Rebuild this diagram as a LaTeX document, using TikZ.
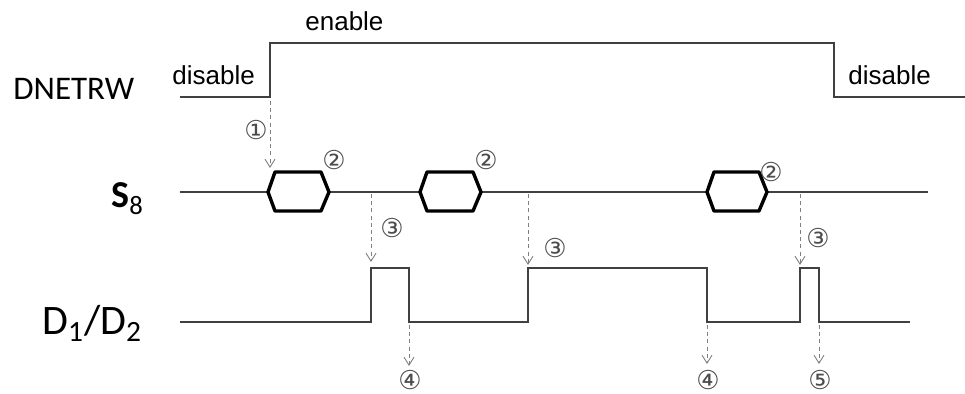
\documentclass[tikz,border=0pt]{standalone}
\usepackage{fontspec}
\setmainfont{Liberation Sans}
\newfontfamily\calfont{Carlito}
\newfontfamily\symfont{DejaVu Sans}
\usetikzlibrary{arrows.meta}

\begin{document}
\begin{tikzpicture}[x=0.5pt, y=-0.5pt,
  wave/.style={line width=0.8pt, draw=black!75},
  hexa/.style={line width=1.7pt, line join=round},
  cue/.style={draw=gray, line width=0.45pt, dash pattern=on 2pt off 1.6pt,
              -{Straight Barb[length=4pt, width=5pt]}},
  num/.style={font=\symfont\fontsize{13}{13}\selectfont, text=black!70, inner sep=0pt},
  sig/.style={anchor=base west, inner sep=0pt},
  lvl/.style={font=\fontsize{13}{13}\selectfont, anchor=base west, inner sep=0pt},
]
  \useasboundingbox (0,0) rectangle (965,394);

  % signal names
  \node[sig, font=\calfont\fontsize{16.5}{16.5}\selectfont] (dnet) at (13,100) {DNETRW};
  \node[sig, font=\calfont\fontsize{19}{19}\selectfont] (s8) at (111,208) {\textbf{S}\textsubscript{8}};
  \node[sig, font=\calfont\fontsize{21}{21}\selectfont] (d12) at (42,335) {D\textsubscript{1}/D\textsubscript{2}};

  % DNETRW levels
  \node[lvl] (dis1) at (172,85) {disable};
  \node[lvl] (en)   at (305,31) {enable};
  \node[lvl] (dis2) at (848,85) {disable};
  \draw[wave] (180,97) -- (270,97) -- (270,43) -- (834,43) -- (834,97) -- (965,97);

  % S8 line with data hexagons
  \draw[wave] (180,192) -- (268,192);
  \draw[wave] (329,192) -- (420,192);
  \draw[wave] (481,192) -- (707,192);
  \draw[wave] (767,192) -- (928,192);
  \draw[hexa] (268,192) -- (275,172) -- (321,172) -- (329,192) -- (321,211) -- (275,211) -- cycle;
  \draw[hexa] (420,192) -- (427,172) -- (473,172) -- (481,192) -- (473,211) -- (427,211) -- cycle;
  \draw[hexa] (707,192) -- (714,172) -- (759,172) -- (767,192) -- (759,211) -- (714,211) -- cycle;

  % D1/D2 pulses
  \draw[wave] (180,322) -- (371,322) -- (371,268) -- (409,268) -- (409,322)
    -- (528,322) -- (528,268) -- (707,268) -- (707,322)
    -- (800,322) -- (800,268) -- (819,268) -- (819,322) -- (910,322);

  % cue points
  \coordinate (c1a) at (270,101);  \coordinate (c1b) at (270,168);
  \coordinate (c3a) at (371,194);  \coordinate (c3b) at (371,262);
  \coordinate (c3c) at (528,194);  \coordinate (c3d) at (528,265);
  \coordinate (c3e) at (800,194);  \coordinate (c3f) at (800,265);
  \coordinate (c4a) at (409,325);  \coordinate (c4b) at (409,366);
  \coordinate (c4c) at (707,325);  \coordinate (c4d) at (707,364);
  \coordinate (c5a) at (819,325);  \coordinate (c5b) at (819,364);
  \draw[cue] (c1a) -- (c1b);
  \draw[cue] (c3a) -- (c3b);
  \draw[cue] (c3c) -- (c3d);
  \draw[cue] (c3e) -- (c3f);
  \draw[cue] (c4a) -- (c4b);
  \draw[cue] (c4c) -- (c4d);
  \draw[cue] (c5a) -- (c5b);

  % step numbers
  \node[num] (n1)  at (256,130) {①};
  \node[num] (n2a) at (334,160) {②};
  \node[num] (n2b) at (486,160) {②};
  \node[num] (n2c) at (771,172) {②};
  \node[num] (n3a) at (392,228) {③};
  \node[num] (n3b) at (555,248) {③};
  \node[num] (n3c) at (818,238) {③};
  \node[num] (n4a) at (410,380) {④};
  \node[num] (n4b) at (708,380) {④};
  \node[num] (n5)  at (820,380) {⑤};
\end{tikzpicture}
\end{document}
